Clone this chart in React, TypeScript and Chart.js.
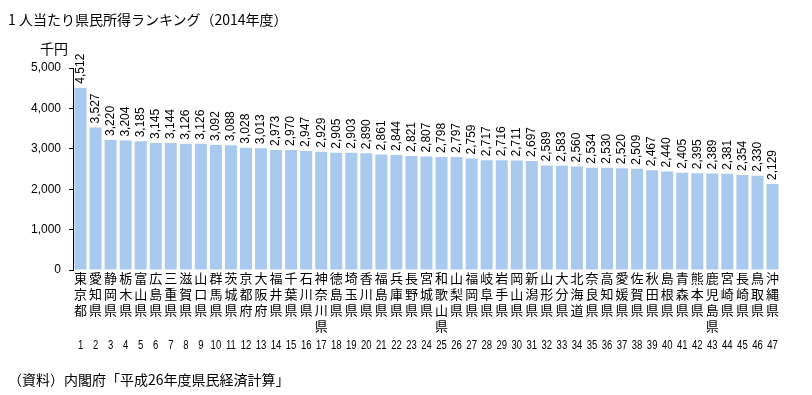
import React, { useEffect, useRef } from 'react';
import { Chart, registerables } from 'chart.js';

Chart.register(...registerables);

const prefectures = [
  '東京都', '愛知県', '静岡県', '栃木県', '富山県', '広島県', '三重県', '滋賀県', '山口県', '群馬県',
  '茨城県', '京都府', '大阪府', '福井県', '千葉県', '石川県', '神奈川県', '徳島県', '埼玉県', '香川県',
  '福島県', '兵庫県', '長野県', '宮城県', '和歌山県', '山梨県', '福岡県', '岐阜県', '岩手県', '岡山県',
  '新潟県', '山形県', '大分県', '北海道', '奈良県', '高知県', '愛媛県', '佐賀県', '秋田県', '島根県',
  '青森県', '熊本県', '鹿児島県', '宮崎県', '長崎県', '鳥取県', '沖縄県',
];

const incomes = [
  4512, 3527, 3220, 3204, 3185, 3145, 3144, 3126, 3126, 3092,
  3088, 3028, 3013, 2973, 2970, 2947, 2929, 2905, 2903, 2890,
  2861, 2844, 2821, 2807, 2798, 2797, 2759, 2717, 2716, 2711,
  2697, 2589, 2583, 2560, 2534, 2530, 2520, 2509, 2467, 2440,
  2405, 2395, 2389, 2381, 2354, 2330, 2129,
];

const ranks = [
  '1', '2', '3', '4', '5', '6', '7', '8', '9', '10',
  '11', '12', '13', '14', '15', '16', '17', '18', '19', '20',
  '21', '22', '23', '24', '25', '26', '27', '28', '29', '30',
  '31', '32', '33', '34', '35', '36', '37', '38', '39', '40',
  '41', '42', '43', '44', '45', '46', '47',
];

const yTicks = [0, 1000, 2000, 3000, 4000, 5000];

const titleText = '1 人当たり県民所得ランキング（2014年度）';
const unitText = '千円';
const sourceText = '（資料）内閣府「平成26年度県民経済計算」';

const CJK = '"Noto Sans CJK JP", "Noto Sans", sans-serif';
const LATIN = '"Liberation Sans", Arial, sans-serif';

const fmt = (v: number) => v.toLocaleString('en-US');

export default function App() {
  const canvasRef = useRef<HTMLCanvasElement | null>(null);

  useEffect(() => {
    const canvas = canvasRef.current;
    if (!canvas) return;

    const valueLabels = {
      id: 'valueLabels',
      afterDatasetsDraw(chart: any) {
        const ctx = chart.ctx;
        const meta = chart.getDatasetMeta(0);
        ctx.save();
        ctx.fillStyle = '#000';
        ctx.font = `12px ${LATIN}`;
        ctx.textAlign = 'left';
        ctx.textBaseline = 'middle';
        meta.data.forEach((bar: any, i: number) => {
          ctx.save();
          ctx.translate(bar.x, bar.y - 4);
          ctx.rotate(-Math.PI / 2);
          ctx.fillText(fmt(incomes[i]), 0, 0);
          ctx.restore();
        });
        ctx.restore();
      },
    };

    const rankLabels = {
      id: 'rankLabels',
      afterDraw(chart: any) {
        const ctx = chart.ctx;
        const xs = chart.scales.x;
        ctx.save();
        ctx.fillStyle = '#000';
        ctx.font = `12.5px ${LATIN}`;
        ctx.textAlign = 'center';
        ctx.textBaseline = 'middle';
        ranks.forEach((r, i) => {
          ctx.save();
          ctx.translate(xs.getPixelForValue(i), 346);
          ctx.scale(0.76, 1);
          ctx.fillText(r, 0, 0);
          ctx.restore();
        });
        ctx.restore();
      },
    };

    const chart = new Chart(canvas, {
      type: 'bar',
      data: {
        labels: prefectures.map((p) => Array.from(p)),
        datasets: [
          {
            data: incomes,
            backgroundColor: 'rgb(169, 202, 238)',
            borderWidth: 0,
            barPercentage: 0.8,
            categoryPercentage: 1,
          },
        ],
      },
      options: {
        responsive: false,
        animation: false,
        layout: { padding: { top: 68, left: 0, right: 32, bottom: 0 } },
        plugins: {
          legend: { display: false },
          tooltip: { enabled: false },
          title: { display: false },
        },
        scales: {
          x: {
            grid: { display: false, drawTicks: false },
            border: { display: false },
            ticks: {
              autoSkip: false,
              maxRotation: 0,
              minRotation: 0,
              padding: 0,
              color: '#000',
              font: { family: CJK, size: 13, lineHeight: 16 / 13 },
            },
            afterFit: (scale: any) => {
              scale.height = 125;
            },
          },
          y: {
            min: 0,
            max: 5000,
            afterBuildTicks: (scale: any) => {
              scale.ticks = yTicks.map((v) => ({ value: v }));
            },
            grid: {
              drawOnChartArea: false,
              drawTicks: true,
              tickLength: 4,
              color: '#000',
            },
            border: { display: true, color: '#000', width: 1 },
            ticks: {
              padding: 8,
              color: '#000',
              font: { family: LATIN, size: 12 },
              callback: (v: any) => fmt(Number(v)),
            },
            afterFit: (scale: any) => {
              scale.width = 73;
            },
          },
        },
      },
      plugins: [valueLabels, rankLabels],
    });

    return () => chart.destroy();
  }, []);

  return (
    <div style={{ position: 'absolute', left: 0, top: 0, width: 812, height: 395, background: '#fff' }}>
      <canvas ref={canvasRef} width={812} height={395} style={{ display: 'block', position: 'absolute', left: 0, top: 0 }} />
      <div style={{ position: 'absolute', left: 8, top: 10, fontFamily: CJK, fontSize: 14, lineHeight: '18px', whiteSpace: 'nowrap', color: '#000' }}>
        {titleText}
      </div>
      <div style={{ position: 'absolute', left: 40, top: 39, fontFamily: CJK, fontSize: 14, lineHeight: '18px', whiteSpace: 'nowrap', color: '#000' }}>
        {unitText}
      </div>
      <div style={{ position: 'absolute', left: 8, top: 370, fontFamily: CJK, fontSize: 14, lineHeight: '18px', whiteSpace: 'nowrap', color: '#000' }}>
        {sourceText}
      </div>
    </div>
  );
}
